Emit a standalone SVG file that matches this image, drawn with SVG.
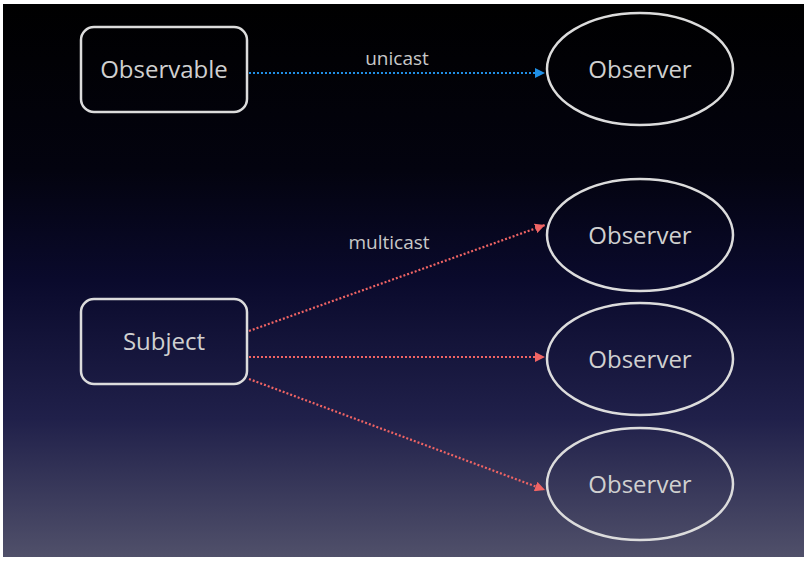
<svg xmlns="http://www.w3.org/2000/svg" width="810" height="564" viewBox="0 0 810 564">
<defs>
<linearGradient id="bg" x1="0" y1="0" x2="0" y2="1">
<stop offset="0" stop-color="#000000"/>
<stop offset="0.3" stop-color="#03030f"/>
<stop offset="0.5" stop-color="#0a0a2c"/>
<stop offset="0.75" stop-color="#20204a"/>
<stop offset="1" stop-color="#50506a"/>
</linearGradient>
<marker id="ab" viewBox="0 0 10 10" refX="10" refY="5" markerWidth="10" markerHeight="10" markerUnits="userSpaceOnUse" orient="auto"><path d="M0,0 L10,5 L0,10 z" fill="#1f8fe6"/></marker>
<marker id="ar" viewBox="0 0 10 10" refX="10" refY="5" markerWidth="10" markerHeight="10" markerUnits="userSpaceOnUse" orient="auto"><path d="M0,0 L10,5 L0,10 z" fill="#f06464"/></marker>
</defs>
<style>
.node{fill:none;stroke:#dcdcdc;stroke-width:2.5}
.lbl{font-family:"Open Sans","DejaVu Sans",sans-serif;font-size:24px;fill:#d0d0d0;text-anchor:middle}
.elbl{font-family:"Open Sans","DejaVu Sans",sans-serif;font-size:19px;fill:#c8c8c8;text-anchor:middle}
.blue{stroke:#1f8fe6;stroke-width:2.2;stroke-dasharray:2 2;fill:none}
.red{stroke:#f06464;stroke-width:2.2;stroke-dasharray:2 2;fill:none}
</style>
<rect x="0" y="0" width="810" height="564" fill="#ffffff"/>
<rect x="3" y="4" width="801" height="553" fill="url(#bg)"/>
<g id="connectors">
<line class="blue" x1="249" y1="73" x2="545" y2="73" marker-end="url(#ab)"/>
<text class="elbl" x="397" y="65">unicast</text>
<line class="red" x1="249" y1="331" x2="545" y2="225" marker-end="url(#ar)"/>
<line class="red" x1="249" y1="357" x2="545" y2="357" marker-end="url(#ar)"/>
<line class="red" x1="249" y1="379" x2="545" y2="490" marker-end="url(#ar)"/>
<text class="elbl" x="389" y="249">multicast</text>
</g>
<g id="observable">
<rect class="node" x="81" y="27" width="166" height="85" rx="13"/>
<text class="lbl" x="164" y="78">Observable</text>
</g>
<g id="subject">
<rect class="node" x="81" y="299" width="166" height="85" rx="13"/>
<text class="lbl" x="164" y="350">Subject</text>
</g>
<g id="observer1">
<ellipse class="node" cx="640" cy="69" rx="93" ry="56"/>
<text class="lbl" x="640" y="78">Observer</text>
</g>
<g id="observer2">
<ellipse class="node" cx="640" cy="235" rx="93" ry="56"/>
<text class="lbl" x="640" y="244">Observer</text>
</g>
<g id="observer3">
<ellipse class="node" cx="640" cy="359" rx="93" ry="56"/>
<text class="lbl" x="640" y="368">Observer</text>
</g>
<g id="observer4">
<ellipse class="node" cx="640" cy="484" rx="93" ry="56"/>
<text class="lbl" x="640" y="493">Observer</text>
</g>
</svg>
